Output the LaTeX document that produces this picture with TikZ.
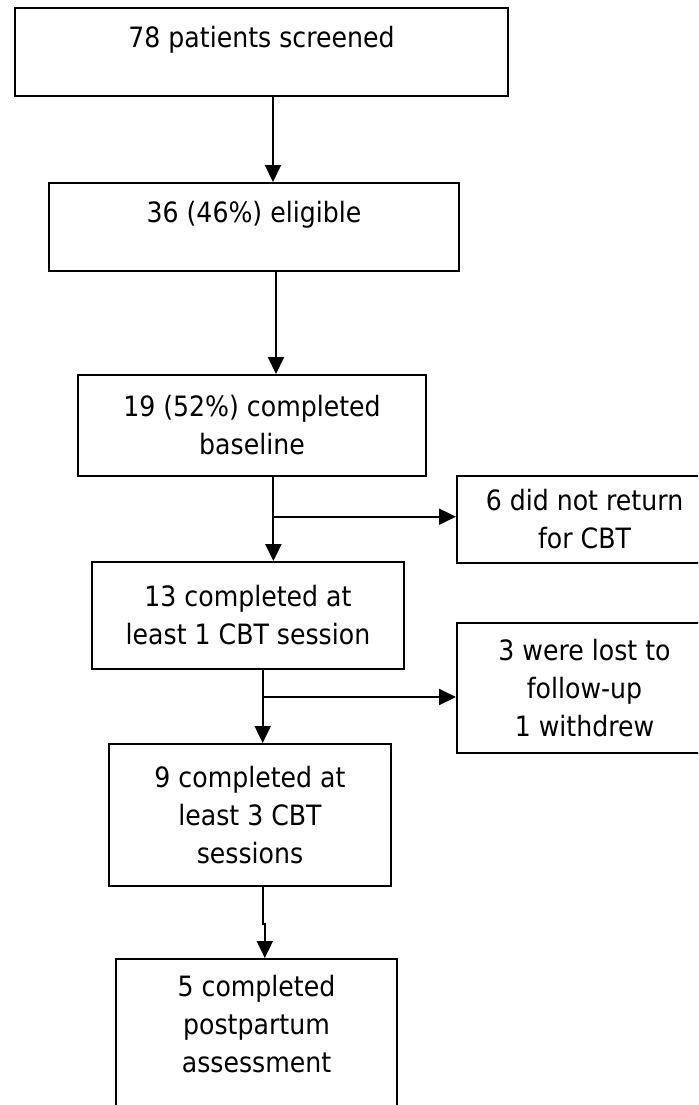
\documentclass[tikz,border=0pt]{standalone}
\usepackage{fontspec}
\setmainfont{DejaVu Sans}[FakeStretch=0.9]
\usetikzlibrary{arrows.meta}
\tikzset{
    boite/.style={draw, line width=1pt, align=center, inner sep=0pt,
        font=\fontsize{14}{19}\selectfont},
    enhaut/.style={text depth=15pt},
    fleche/.style={line width=1pt, -{Triangle[length=8.5pt, width=8pt]}}
}

\begin{document}
\begin{tikzpicture}[x=0.5pt, y=-0.5pt]

    \path[use as bounding box, clip] (0,0) rectangle (698,1105);

    % Colonne principale
    \node[boite, enhaut, minimum width=246.5pt, minimum height=44pt]
        (screened) at (261.5,52) {78 patients screened};
    \node[boite, enhaut, minimum width=205pt, minimum height=44pt]
        (eligible) at (254,227) {36 (46\%) eligible};
    \node[boite, minimum width=174pt, minimum height=50.5pt]
        (baseline) at (252,425.5) {19 (52\%) completed\\baseline};
    \node[boite, minimum width=156pt, minimum height=53.5pt]
        (onesession) at (248,615.5) {13 completed at\\least 1 CBT session};
    \node[boite, minimum width=141pt, minimum height=71pt]
        (threesessions) at (250,815) {9 completed at\\least 3 CBT\\sessions};
    \node[boite, minimum width=140.5pt, minimum height=83.5pt]
        (postpartum) at (256.5,1042.5) {5 completed\\postpartum\\assessment\\\mbox{}};

    % Sorties
    \node[boite, minimum width=127.5pt, minimum height=43.5pt]
        (noreturn) at (584.5,519.5) {6 did not return\\for CBT};
    \node[boite, minimum width=127.5pt, minimum height=65pt]
        (lost) at (584.5,688) {3 were lost to\\follow-up\\1 withdrew};

    \coordinate (split1) at (273.4,516.7);
    \coordinate (split2) at (262.7,697);

    % Fleches
    \draw[fleche] (screened.south -| 273,0) -- (eligible.north -| 273,0);
    \draw[fleche] (eligible.south -| 276,0) -- (baseline.north -| 276,0);
    \draw[fleche] (split1 |- baseline.south) -- (split1 |- onesession.north);
    \draw[fleche] (split1) -- (split1 -| noreturn.west);
    \draw[fleche] (split2 |- onesession.south) -- (split2 |- threesessions.north);
    \draw[fleche] (split2) -- (split2 -| lost.west);
    \draw[fleche] (threesessions.south -| 263,0) -- ++(0,37) -- ++(1.8,0)
        -- (postpartum.north -| 264.8,0);

\end{tikzpicture}
\end{document}
